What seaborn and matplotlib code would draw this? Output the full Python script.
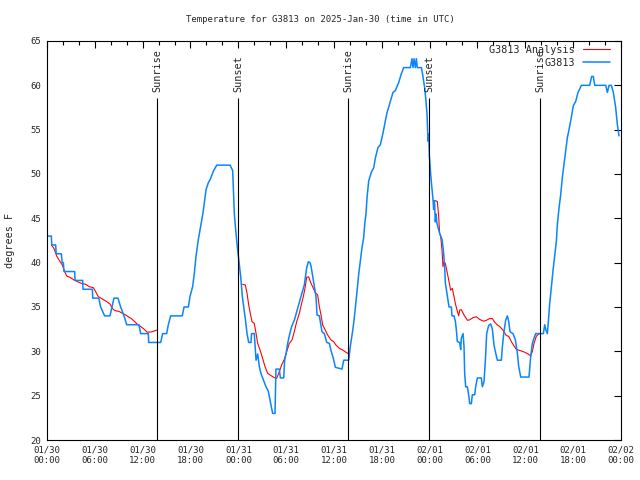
import numpy as np
import pandas as pd
import matplotlib
matplotlib.use("Agg")
import matplotlib.pyplot as plt
import matplotlib.dates as mdates
import seaborn as sns

# observed temperature (hours since 2025-01-30 00:00 UTC, degrees F)
obs_hours = [0.0, 0.54, 0.6, 1.09, 1.15, 1.8, 1.9, 2.05, 2.13, 3.47, 3.52, 4.47, 4.52, 5.69, 5.74, 6.5,
             6.73, 7.23, 7.9, 8.15, 8.4, 8.9, 9.24, 9.66, 10.0, 11.54, 11.75, 12.71, 12.75, 14.26, 14.51,
             15.01, 15.22, 15.51, 16.97, 17.19, 17.73, 17.94, 18.27, 18.48, 18.69, 18.98, 19.28, 19.53,
             19.73, 19.94, 20.23, 20.53, 20.86, 21.29, 22.96, 23.29, 23.37, 23.5, 23.71, 23.87, 24.0,
             24.12, 24.3, 24.5, 24.9, 25.09, 25.3, 25.59, 25.65, 26.0, 26.22, 26.43, 26.63, 26.84, 27.13,
             27.47, 27.76, 27.97, 28.19, 28.31, 28.6, 28.72, 29.14, 29.27, 29.69, 29.81, 29.98, 30.19,
             30.4, 30.69, 31.02, 31.45, 31.86, 32.28, 32.57, 32.78, 32.99, 33.12, 33.41, 33.74, 33.87,
             34.16, 34.5, 34.79, 35.09, 35.42, 35.62, 35.92, 36.17, 37.0, 37.22, 37.85, 38.05, 38.34,
             38.47, 38.68, 38.89, 39.1, 39.31, 39.51, 39.72, 39.85, 40.02, 40.14, 40.35, 40.68, 40.98,
             41.19, 41.52, 41.81, 42.02, 42.23, 42.44, 42.65, 43.07, 43.4, 43.69, 44.11, 44.41, 44.74,
             45.58, 45.78, 45.91, 46.04, 46.2, 46.33, 46.45, 46.96, 47.12, 47.38, 47.54, 47.67, 47.79,
             47.88, 47.96, 48.0, 48.13, 48.29, 48.42, 48.5, 48.6, 48.71, 48.8, 48.9, 49.25, 49.55, 49.72,
             49.88, 49.97, 50.22, 50.43, 50.72, 50.8, 51.05, 51.22, 51.35, 51.47, 51.77, 51.89, 51.97,
             52.19, 52.31, 52.39, 52.52, 52.73, 52.89, 53.02, 53.23, 53.35, 53.65, 53.77, 53.98, 54.48,
             54.61, 54.82, 54.99, 55.15, 55.4, 55.65, 55.86, 56.07, 56.28, 56.49, 56.99, 57.12, 57.29,
             57.53, 57.74, 57.91, 58.08, 58.45, 58.75, 59.0, 59.17, 59.42, 60.46, 60.67, 60.88, 61.09,
             61.3, 62.26, 62.43, 62.55, 62.76, 62.89, 63.05, 63.26, 63.47, 63.68, 63.89, 64.02, 64.23,
             64.44, 64.64, 64.85, 65.06, 65.27, 65.48, 65.69, 66.02, 66.32, 66.61, 67.03, 68.07, 68.32,
             68.53, 68.7, 70.08, 70.29, 70.5, 70.79, 71.04, 71.33, 71.54, 71.75]
obs_temps = [43, 43, 42, 42, 41, 41, 40, 40, 39, 39, 38, 38, 37, 37, 36, 36,
             35, 34, 34, 35, 36, 36, 35, 34, 33, 33, 32, 32, 31, 31, 32,
             32, 33, 34, 34, 35, 35, 36.2, 37.3, 38.8, 40.7, 42.6, 44.1, 45.4,
             46.7, 48.2, 49.0, 49.5, 50.3, 51, 51, 50.4, 48.5, 45.5, 43.3, 41.8, 40.8,
             39.9, 38.4, 36.2, 33.5, 32, 31, 31, 32, 32, 29, 29.7, 28.3, 27.5, 26.8,
             26.0, 25.5, 24.5, 23.5, 23, 23, 28, 28, 27, 27, 29, 29.7, 30.9,
             31.8, 32.8, 33.5, 34.9, 36.2, 37.5, 39.4, 40.1, 40, 39.6, 38.0, 36.2, 34.1,
             34, 32.2, 32.0, 31.0, 30.9, 30.1, 29.2, 28.2, 28, 29, 29, 30.6, 32.3,
             33.2, 34.9, 36.8, 38.7, 40.2, 41.7, 42.8, 44.3, 45.6, 47.3, 49.2, 50.2, 50.7,
             51.8, 53.0, 53.3, 54.1, 55.0, 56.0, 56.9, 58.2, 59.2, 59.4, 60.3, 61.2, 62,
             62, 63, 62, 63, 62, 63, 62, 62, 61.2, 59.7, 58.2, 56.7, 53.7,
             54.5, 52, 51.6, 49.9, 48.4, 47.1, 46.0, 47.0, 44.6, 45.5, 44.5, 43.3, 42.6, 41.4,
             39.5, 37.7, 36.2, 35, 35, 34, 34, 33.4, 32.4, 31.1, 31, 30.2, 31.5,
             32.0, 30.5, 27.5, 26, 26, 25.1, 24.1, 24.1, 25.1, 25.1, 26.0, 27, 27,
             26, 26.6, 29, 32, 32.9, 33.1, 32.5, 30.7, 29.8, 29, 29, 30.5, 32,
             33.5, 34.0, 33.4, 32.2, 32, 31.3, 29.8, 28.3, 27.1, 27.1, 29.4, 30.9, 31.5,
             32, 32, 33, 32.5, 32, 33.4, 35.3, 37.2, 39.1, 40.8, 42.4, 44.3, 46.2,
             47.7, 49.6, 51.1, 52.6, 54.1, 55.0, 56.0, 57.7, 58.2, 59.2, 60, 60, 61,
             61, 60, 60, 59.2, 60, 60, 59.2, 57.5, 55.6, 54.3]

# analysis, three night-time pieces
ana1_hours = [0.54, 0.88, 1.21, 1.51, 1.92, 2.22, 2.47, 2.97, 3.39, 3.81, 4.31, 4.85, 5.27, 5.81, 6.1,
              6.44, 6.94, 7.36, 7.9, 8.2, 8.49, 9.03, 9.45, 9.87, 10.29, 10.58, 11.0, 11.42, 11.75,
              12.17, 12.58, 13.13, 13.8]
ana1_temps = [42.0, 41.6, 40.75, 40.3, 39.74, 38.98, 38.5, 38.3, 38.05, 37.86, 37.67, 37.56, 37.3, 37.18,
              36.73, 36.17, 35.9, 35.68, 35.34, 34.85, 34.6, 34.5, 34.3, 34.1, 33.84, 33.7, 33.35, 32.97,
              32.8, 32.5, 32.15, 32.2, 32.4]
ana2_hours = [24.54, 24.88, 25.09, 25.3, 25.5, 25.71, 26.0, 26.22, 26.43, 26.72, 27.05, 27.35, 27.68,
              28.1, 28.52, 28.81, 29.14, 29.43, 29.77, 30.06, 30.4, 30.73, 31.02, 31.32, 31.65, 31.94,
              32.15, 32.36, 32.57, 32.82, 33.12, 33.41, 33.66, 33.95, 34.16, 34.37, 34.58, 34.79, 35.21,
              35.62, 35.96, 36.25, 36.67, 37.09, 37.51, 37.85]
ana2_temps = [37.56, 37.48, 36.55, 35.23, 34.29, 33.35, 33.16, 32.03, 30.9, 30.15, 29.2, 28.27, 27.52,
              27.26, 27.03, 26.96, 27.7, 28.46, 29.1, 29.96, 30.9, 31.28, 32.22, 33.35, 34.29, 35.42,
              36.17, 37.1, 38.35, 38.4, 37.67, 37.1, 36.62, 36.36, 35.04, 34.1, 32.97, 32.6, 31.84,
              31.28, 31.09, 30.7, 30.34, 30.15, 29.89, 29.7]
ana3_hours = [48.71, 48.96, 49.13, 49.25, 49.38, 49.55, 49.67, 49.8, 49.97, 50.22, 50.43, 50.63, 50.84,
              51.05, 51.22, 51.43, 51.64, 51.77, 51.97, 52.31, 52.73, 53.02, 53.44, 53.86, 54.27, 54.77,
              55.11, 55.53, 55.86, 56.15, 56.49, 56.78, 57.2, 57.62, 57.91, 58.25, 58.58, 58.87, 59.29,
              59.92, 60.34, 60.67, 60.88, 61.09, 61.38, 61.72, 62.01]
ana3_temps = [47.0, 46.9, 45.2, 43.3, 43.0, 41.4, 39.55, 40.1, 39.9, 38.8, 37.85, 36.9, 37.1,
              36.2, 35.4, 34.66, 34.0, 34.66, 34.7, 34.1, 33.5, 33.55, 33.8, 33.9, 33.6, 33.4,
              33.5, 33.7, 33.7, 33.3, 32.97, 32.8, 32.4, 31.77, 31.7, 31.1, 30.6, 30.23, 30.1,
              29.9, 29.7, 29.5, 29.98, 30.9, 31.7, 32.0, 32.0]

sun_labels = ["Sunrise", "Sunset", "Sunrise", "Sunset", "Sunrise"]
sun_hours = [13.84, 24.0, 37.8, 47.96, 61.88]

start = pd.Timestamp("2025-01-30 00:00")

parts = []
parts.append(pd.DataFrame({"hours": obs_hours, "temp": obs_temps, "series": "G3813", "segment": 0}))
for i, (h, t) in enumerate([(ana1_hours, ana1_temps), (ana2_hours, ana2_temps), (ana3_hours, ana3_temps)]):
    parts.append(pd.DataFrame({"hours": h, "temp": t, "series": "G3813 Analysis", "segment": i + 1}))
df = pd.concat(parts, ignore_index=True)
df["time"] = start + pd.to_timedelta(df["hours"], unit="h")

sns.set_style("white")
plt.rcParams["font.family"] = ["DejaVu Sans Mono"]
plt.rcParams["font.size"] = 6.5

fig = plt.figure(figsize=(6.4, 4.8), dpi=100)
ax = fig.add_axes([47 / 640, 1 - 440 / 480, 574 / 640, 399 / 480])

sns.lineplot(data=df, x="time", y="temp", hue="series", units="segment", estimator=None, sort=False,
             hue_order=["G3813 Analysis", "G3813"],
             palette={"G3813 Analysis": "#ff0000", "G3813": "#0a84ff"}, linewidth=1.1, ax=ax)
for ln in ax.get_lines():
    if ln.get_color() == "#ff0000":
        ln.set_linewidth(0.8)

sun_times = [start + pd.Timedelta(hours=h) for h in sun_hours]
ax.vlines(sun_times, 20, 58.6, color="black", linewidth=0.8)
for t, lab in zip(sun_times, sun_labels):
    ax.text(t, 59.25, lab, rotation=90, ha="center", va="bottom", fontsize=7.3)

ax.set_xlim(start, start + pd.Timedelta(hours=72))
ax.set_ylim(20, 65)
ax.set_yticks(np.arange(20, 66, 5))
ax.xaxis.set_major_locator(mdates.HourLocator(byhour=[0, 6, 12, 18]))
ax.xaxis.set_minor_locator(mdates.HourLocator(byhour=range(0, 24, 2)))
ax.xaxis.set_major_formatter(mdates.DateFormatter("%m/%d\n%H:%M"))
ax.tick_params(which="both", direction="in", top=True, right=True, labelsize=6.5, color="black")
ax.tick_params(which="major", length=5, width=0.8, pad=4)
ax.tick_params(which="minor", length=3, width=0.8)
for s in ax.spines.values():
    s.set_color("black")
    s.set_linewidth(0.8)

ax.set_xlabel("")
ax.set_ylabel("")
fig.text(10 / 640, 0.5, "degrees F", rotation=90, ha="center", va="center", fontsize=7.3)
fig.text(0.5, 1 - 19 / 480, "Temperature for G3813 on 2025-Jan-30 (time in UTC)",
         ha="center", va="center", fontsize=6.5)

ax.legend(title=None, loc="upper right", bbox_to_anchor=(0.992, 1.006), frameon=False,
          markerfirst=False, fontsize=7.3, handlelength=2.7, handletextpad=0.8,
          labelspacing=0.3, borderaxespad=0.3, borderpad=0.3)

fig.savefig("out.png", dpi=100)
